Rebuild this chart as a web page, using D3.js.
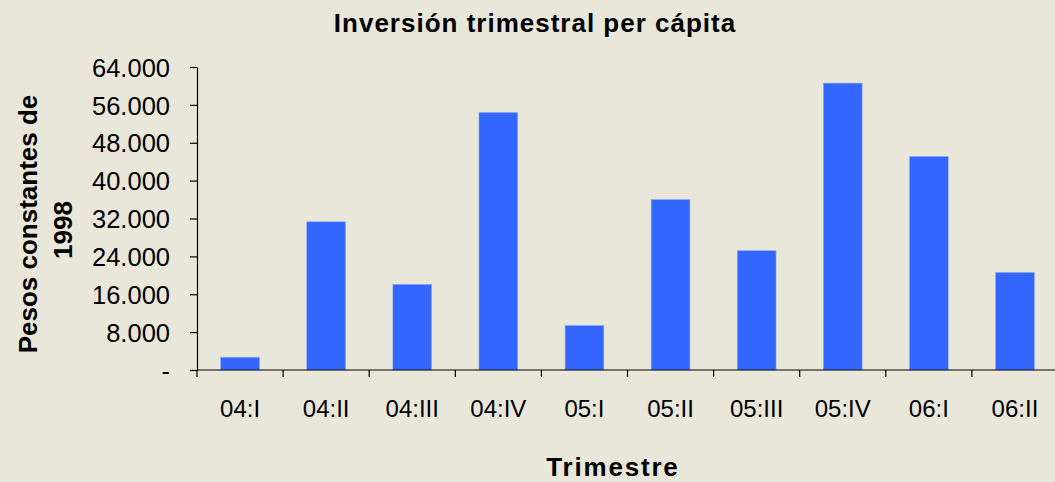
<!DOCTYPE html>
<html>
<head>
<meta charset="utf-8">
<script src="https://cdn.jsdelivr.net/npm/d3@7"></script>
<style>
  body { margin: 0; background: #e9e7d9; }
  svg { display: block; font-family: "Liberation Sans", Arial, sans-serif; }
</style>
</head>
<body>
<div id="chart"></div>
<script>
const trimestres = ["04:I", "04:II", "04:III", "04:IV", "05:I", "05:II", "05:III", "05:IV", "06:I", "06:II"];
const inversion = [2700, 31300, 18100, 54400, 9400, 36000, 25200, 60600, 45100, 20600];
const yTicks = [0, 8000, 16000, 24000, 32000, 40000, 48000, 56000, 64000];

const width = 1055;
const height = 482;
const margin = { top: 67, right: -3, bottom: 112, left: 197 };

const svg = d3.select("#chart")
  .append("svg")
  .attr("width", width)
  .attr("height", height);

svg.append("rect")
  .attr("width", width)
  .attr("height", height)
  .attr("fill", "#e9e7d9");

const x = d3.scaleBand()
  .domain(trimestres)
  .range([margin.left, width - margin.right])
  .paddingInner(0.55)
  .paddingOuter(0.275);

const y = d3.scaleLinear()
  .domain([0, 64000])
  .range([height - margin.bottom, margin.top]);

// bars
svg.selectAll("rect.bar")
  .data(inversion)
  .join("rect")
  .attr("class", "bar")
  .attr("x", (d, i) => x(trimestres[i]))
  .attr("y", d => y(d))
  .attr("width", x.bandwidth())
  .attr("height", d => y(0) - y(d))
  .attr("fill", "#3366ff")
  .attr("stroke", "#8fa8f0")
  .attr("stroke-width", 0.6);

// y axis
const fmt = d => d === 0 ? "-" : d3.format(",")(d).replace(/,/g, ".");
const yAxis = svg.append("g")
  .attr("transform", `translate(${margin.left},0)`)
  .call(d3.axisLeft(y).tickValues(yTicks).tickFormat(fmt).tickSizeInner(7).tickSizeOuter(0).tickPadding(20));
yAxis.selectAll("text")
  .attr("font-size", 25.5)
  .attr("fill", "#000")
  .attr("dy", "0.36em");
yAxis.selectAll("line, path").attr("stroke", "#000").attr("stroke-width", 1.2);

// x axis, ticks sit between the categories
const step = x.step();
const boundaries = d3.range(trimestres.length + 1).map(i => margin.left + i * step);
const xg = svg.append("g");
xg.append("line")
  .attr("x1", margin.left).attr("x2", width)
  .attr("y1", y(0)).attr("y2", y(0))
  .attr("stroke", "#000").attr("stroke-width", 1.2);
xg.selectAll("line.tick")
  .data(boundaries)
  .join("line")
  .attr("class", "tick")
  .attr("x1", d => d).attr("x2", d => d)
  .attr("y1", y(0)).attr("y2", y(0) + 7)
  .attr("stroke", "#000").attr("stroke-width", 1.2);
xg.selectAll("text")
  .data(trimestres)
  .join("text")
  .attr("x", d => x(d) + x.bandwidth() / 2)
  .attr("y", 417)
  .attr("text-anchor", "middle")
  .attr("font-size", 24)
  .attr("fill", "#000")
  .text(d => d);

// titles
svg.append("text")
  .attr("x", 535)
  .attr("y", 32)
  .attr("text-anchor", "middle")
  .attr("font-size", 26)
  .attr("font-weight", "bold")
  .attr("letter-spacing", 1)
  .text("Inversión trimestral per cápita");

svg.append("text")
  .attr("x", 613)
  .attr("y", 476)
  .attr("text-anchor", "middle")
  .attr("font-size", 26)
  .attr("font-weight", "bold")
  .attr("letter-spacing", 1.8)
  .text("Trimestre");

const yTitle = svg.append("text")
  .attr("transform", "translate(37,224) rotate(-90)")
  .attr("text-anchor", "middle")
  .attr("font-size", 26)
  .attr("font-weight", "bold");
yTitle.append("tspan").attr("x", 0).attr("y", 0).text("Pesos constantes de");
yTitle.append("tspan").attr("x", -6).attr("y", 35).text("1998");
</script>
</body>
</html>
